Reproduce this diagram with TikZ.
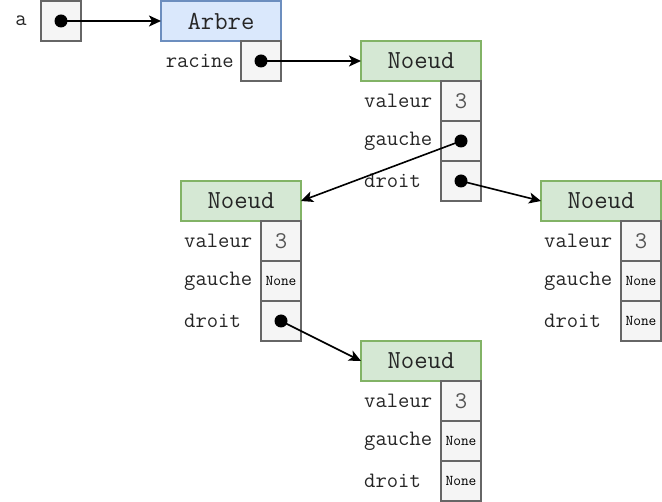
\documentclass[tikz,border=0pt]{standalone}
\usepackage{fontspec}
\usetikzlibrary{positioning,arrows.meta}
\definecolor{bleufond}{HTML}{DAE8FC}
\definecolor{bleutrait}{HTML}{6C8EBF}
\definecolor{vertfond}{HTML}{D5E8D4}
\definecolor{verttrait}{HTML}{82B366}
\definecolor{grisfond}{HTML}{F5F5F5}
\definecolor{gristrait}{HTML}{666666}
\definecolor{gristexte}{HTML}{555555}

\begin{document}
\begin{tikzpicture}[x=1pt,y=-1pt,
	classe/.style={draw, line width=1.3pt, outer sep=0pt, minimum width=120pt, minimum height=40pt, inner sep=0pt, text=black!85, font=\ttfamily\fontsize{26}{26}\selectfont},
	arbre/.style={classe, fill=bleufond, draw=bleutrait},
	noeud/.style={classe, fill=vertfond, draw=verttrait},
	champ/.style={draw=gristrait, fill=grisfond, line width=1.3pt, outer sep=0pt, minimum size=40pt, inner sep=0pt},
	valeur/.style={champ, text=gristexte, font=\ttfamily\fontsize{24}{24}\selectfont},
	vide/.style={champ, text=black, font=\ttfamily\fontsize{15}{15}\selectfont},
	etiquette/.style={inner sep=0pt, text=black!85, font=\ttfamily\fontsize{22}{22}\selectfont},
	point/.style={circle, fill=black, minimum size=13pt, inner sep=0pt},
	fleche/.style={-{Stealth[length=12pt,width=11pt,inset=3pt]}, line width=1.6pt}]
	\useasboundingbox (0,0) rectangle (662,502);
	
	% variable a
	\node[champ] (a) at (61,21) {};
	\node[etiquette, left=14pt of a] (la) {a};
	
	% objet Arbre
	\node[arbre, right=80pt of a] (arbre) {Arbre};
	\node[champ, anchor=north east] (racine) at (arbre.south east) {};
	\node[etiquette, left=7pt of racine] (lracine) {racine};
	
	% noeud 1 (racine)
	\node[noeud, right=80pt of racine] (n1) {Noeud};
	\node[valeur, anchor=north east] (n1v) at (n1.south east) {3};
	\node[champ, below=0pt of n1v] (n1g) {};
	\node[champ, below=0pt of n1g] (n1d) {};
	\node[etiquette, anchor=west] (ln1v) at ([xshift=3pt]n1.west |- n1v) {valeur};
	\node[etiquette, anchor=west] (ln1g) at ([xshift=3pt]n1.west |- n1g) {gauche};
	\node[etiquette, anchor=west] (ln1d) at ([xshift=3pt]n1.west |- n1d) {droit};
	
	% noeud 2 (fils gauche)
	\node[noeud] (n2) at (241,201) {Noeud};
	\node[valeur, anchor=north east] (n2v) at (n2.south east) {3};
	\node[vide, below=0pt of n2v] (n2g) {None};
	\node[champ, below=0pt of n2g] (n2d) {};
	\node[etiquette, anchor=west] (ln2v) at ([xshift=3pt]n2.west |- n2v) {valeur};
	\node[etiquette, anchor=west] (ln2g) at ([xshift=3pt]n2.west |- n2g) {gauche};
	\node[etiquette, anchor=west] (ln2d) at ([xshift=3pt]n2.west |- n2d) {droit};
	
	% noeud 3 (fils droit)
	\node[noeud] (n3) at (601,201) {Noeud};
	\node[valeur, anchor=north east] (n3v) at (n3.south east) {3};
	\node[vide, below=0pt of n3v] (n3g) {None};
	\node[vide, below=0pt of n3g] (n3d) {None};
	\node[etiquette, anchor=west] (ln3v) at ([xshift=3pt]n3.west |- n3v) {valeur};
	\node[etiquette, anchor=west] (ln3g) at ([xshift=3pt]n3.west |- n3g) {gauche};
	\node[etiquette, anchor=west] (ln3d) at ([xshift=3pt]n3.west |- n3d) {droit};
	
	% noeud 4 (feuille)
	\node[noeud] (n4) at (421,361) {Noeud};
	\node[valeur, anchor=north east] (n4v) at (n4.south east) {3};
	\node[vide, below=0pt of n4v] (n4g) {None};
	\node[vide, below=0pt of n4g] (n4d) {None};
	\node[etiquette, anchor=west] (ln4v) at ([xshift=3pt]n4.west |- n4v) {valeur};
	\node[etiquette, anchor=west] (ln4g) at ([xshift=3pt]n4.west |- n4g) {gauche};
	\node[etiquette, anchor=west] (ln4d) at ([xshift=3pt]n4.west |- n4d) {droit};
	
	% pointeurs
	\node[point] (pa) at (a.center) {};
	\node[point] (pracine) at (racine.center) {};
	\node[point] (pn1g) at (n1g.center) {};
	\node[point] (pn1d) at (n1d.center) {};
	\node[point] (pn2d) at (n2d.center) {};
	
	\draw[fleche] (pa.center) -- (arbre.west);
	\draw[fleche] (pracine.center) -- (n1.west);
	\draw[fleche] (pn1g.center) -- (n2.east);
	\draw[fleche] (pn1d.center) -- (n3.west);
	\draw[fleche] (pn2d.center) -- (n4.west);
\end{tikzpicture}
\end{document}
